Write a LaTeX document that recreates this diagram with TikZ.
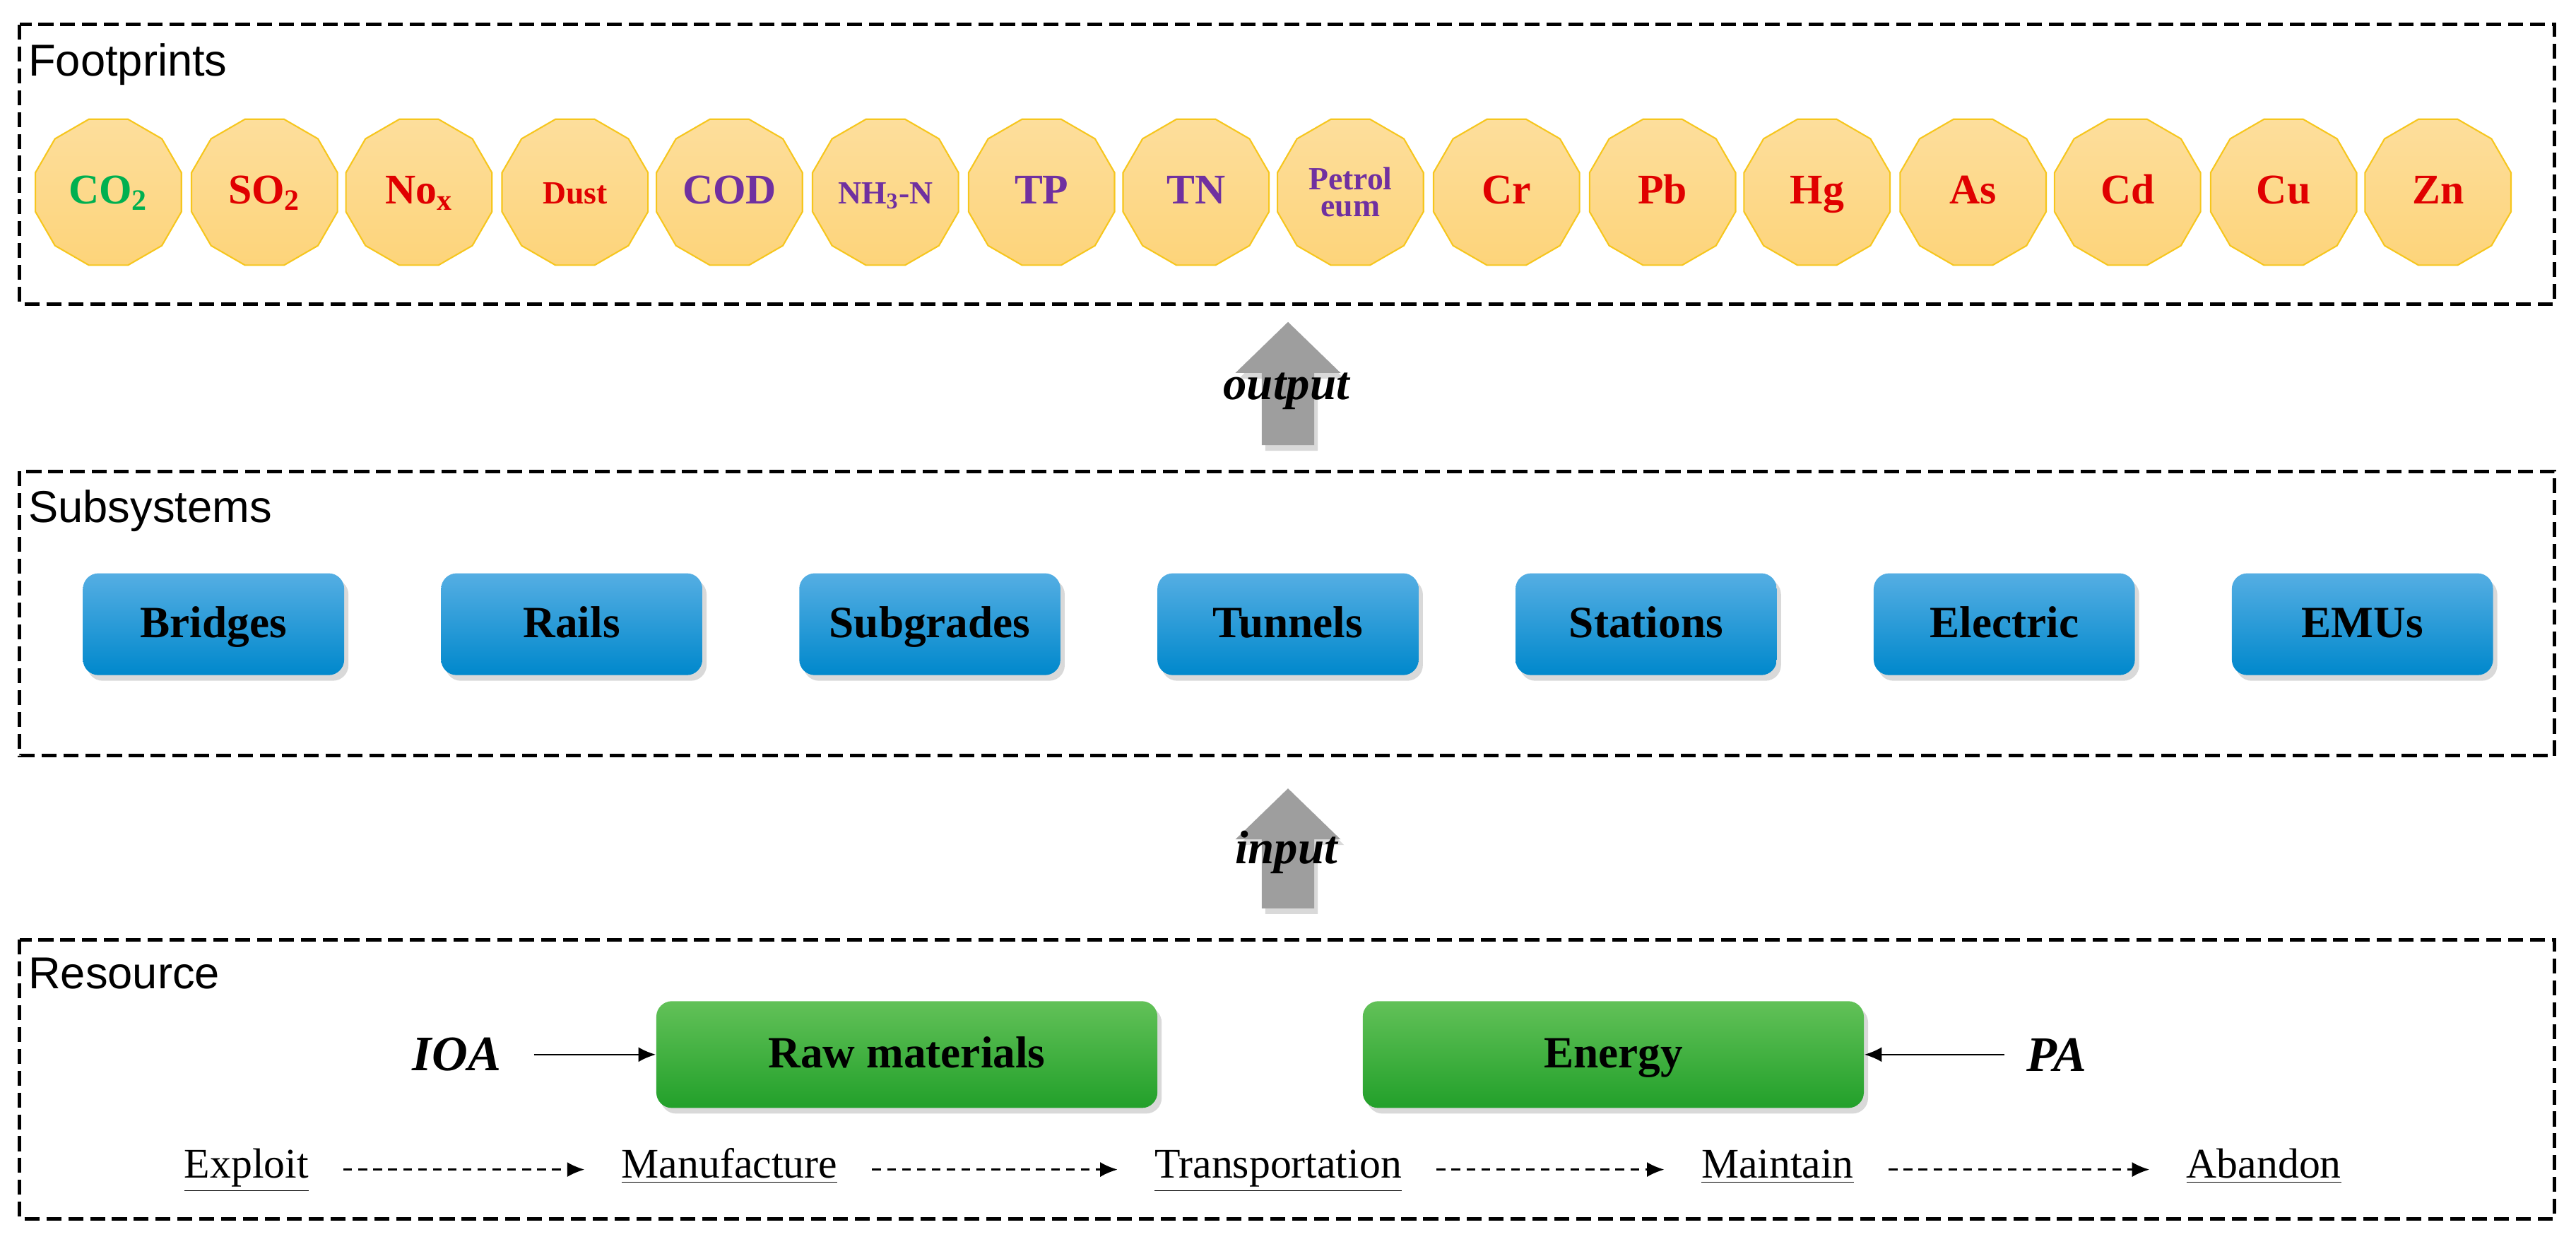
\documentclass[tikz,border=0pt]{standalone}
\usepackage{fontspec}
\setmainfont{Liberation Serif}
\newfontfamily\arial{Liberation Sans}
\usetikzlibrary{shapes.geometric,shadows,arrows.meta}
\definecolor{octfillA}{HTML}{FDDE9C}
\definecolor{octfillB}{HTML}{FDD47A}
\definecolor{octdraw}{HTML}{F6C61E}
\definecolor{bluetop}{HTML}{55AEE3}
\definecolor{bluebot}{HTML}{0088CC}
\definecolor{greentop}{HTML}{62C158}
\definecolor{greenbot}{HTML}{22A02A}
\definecolor{cgreen}{HTML}{00B050}
\definecolor{cred}{HTML}{E00000}
\definecolor{cpurple}{HTML}{7030A0}
\begin{document}
\begin{tikzpicture}[x=0.2325mm,y=-0.2325mm,
  frame/.style={draw=black,line width=1.4pt,dash pattern=on 6pt off 2.8pt},
  lab/.style={anchor=north west,inner sep=0pt,font=\arial\fontsize{18}{20}\selectfont},
  oct/.style={regular polygon,regular polygon sides=12,minimum size=92*0.2325mm,inner sep=0pt,
     top color=octfillA,bottom color=octfillB,draw=octdraw,line width=0.6pt,
     font=\bfseries\fontsize{17}{18}\selectfont},
  octt/.style={text height=11.5pt,text depth=2pt},
  small/.style={font=\bfseries\fontsize{13}{13}\selectfont},
  sub/.style={rounded corners=2.2mm,minimum width=159*0.2325mm,minimum height=62*0.2325mm,
     text height=12pt,text depth=1.5pt,
     top color=bluetop,bottom color=bluebot,draw=none,drop shadow={opacity=0.3,shadow xshift=0.6mm,shadow yshift=-0.8mm},
     font=\bfseries\fontsize{18}{20}\selectfont},
  res/.style={rounded corners=2.2mm,minimum width=305*0.2325mm,minimum height=65*0.2325mm,
     text height=12pt,text depth=1.5pt,
     top color=greentop,bottom color=greenbot,draw=none,drop shadow={opacity=0.3,shadow xshift=0.6mm,shadow yshift=-0.8mm},
     font=\bfseries\fontsize{18}{20}\selectfont},
  bigarrow/.style={fill=black!38,draw=none,drop shadow={opacity=0.3,shadow xshift=0.5mm,shadow yshift=-0.8mm}},
  stage/.style={font=\fontsize{17}{19}\selectfont,text height=12pt,text depth=5pt},
  darr/.style={-{Latex[length=7pt,width=6pt]},dash pattern=on 3.5pt off 2.5pt,line width=0.7pt},
  sarr/.style={-{Latex[length=7pt,width=6pt]},line width=0.7pt},
  ital/.style={font=\bfseries\itshape\fontsize{19}{21}\selectfont}
]
\useasboundingbox (0,0) rectangle (1568,757);
% frames
\draw[frame] (12,15) rectangle (1555,185);
\draw[frame] (12,287) rectangle (1555,460);
\draw[frame] (12,572) rectangle (1555,742);
\node[lab] (lf) at (17,26) {Footprints};
\node[lab] (ls) at (17,298) {Subsystems};
\node[lab] (lr) at (17,583) {Resource};
% footprints
\node[oct,octt,text=cgreen] (f1) at (66,117) {CO\textsubscript{2}};
\node[oct,octt,text=cred] (f2) at (161,117) {SO\textsubscript{2}};
\node[oct,octt,text=cred] (f3) at (255,117) {No\textsubscript{x}};
\node[oct,octt,text=cred,small] (f4) at (350,117) {Dust};
\node[oct,octt,text=cpurple] (f5) at (444,117) {COD};
\node[oct,octt,text=cpurple,small] (f6) at (539,117) {NH\textsubscript{3}-N};
\node[oct,octt,text=cpurple] (f7) at (634,117) {TP};
\node[oct,octt,text=cpurple] (f8) at (728,117) {TN};
\node[oct,text=cpurple,small,align=center] (f9) at (822,117) {Petrol\\[-2pt]eum};
\node[oct,octt,text=cred] (f10) at (917,117) {Cr};
\node[oct,octt,text=cred] (f11) at (1012,117) {Pb};
\node[oct,octt,text=cred] (f12) at (1106,117) {Hg};
\node[oct,octt,text=cred] (f13) at (1201,117) {As};
\node[oct,octt,text=cred] (f14) at (1295,117) {Cd};
\node[oct,octt,text=cred] (f15) at (1390,117) {Cu};
\node[oct,octt,text=cred] (f16) at (1484,117) {Zn};
% arrows
\path[bigarrow] (768,271) -- (768,227) -- (752,227) -- (784,196) -- (816,227) -- (800,227) -- (800,271) -- cycle;
\node[ital] (out) at (783,238) {output};
\path[bigarrow] (768,553) -- (768,511) -- (752,511) -- (784,480) -- (816,511) -- (800,511) -- (800,553) -- cycle;
\node[ital] (in) at (783,519) {input};
% subsystems
\node[sub] (b1) at (130,380) {Bridges};
\node[sub] (b2) at (348,380) {Rails};
\node[sub] (b3) at (566,380) {Subgrades};
\node[sub] (b4) at (784,380) {Tunnels};
\node[sub] (b5) at (1002,380) {Stations};
\node[sub] (b6) at (1220,380) {Electric};
\node[sub] (b7) at (1438,380) {EMUs};
% resource
\node[res] (raw) at (552,642) {Raw materials};
\node[res] (en) at (982,642) {Energy};
\node[ital,font=\bfseries\itshape\fontsize{20}{22}\selectfont] (ioa) at (278,642) {IOA};
\node[ital,font=\bfseries\itshape\fontsize{20}{22}\selectfont] (pa) at (1252,642) {PA};
\coordinate (ia) at (325,642);
\coordinate (pb) at (1220,642);
\draw[sarr] (ia) -- (raw.west);
\draw[sarr] (pb) -- (en.east);
\node[stage] (s1) at (150,712) {\underline{Exploit}};
\node[stage] (s2) at (444,712) {\underline{Manufacture}};
\node[stage] (s3) at (778,712) {\underline{Transportation}};
\node[stage] (s4) at (1082,712) {\underline{Maintain}};
\node[stage] (s5) at (1378,712) {\underline{Abandon}};
\draw[darr] ([xshift=3.7mm]s1.east) -- ([xshift=-4mm]s2.west);
\draw[darr] ([xshift=3.7mm]s2.east) -- ([xshift=-4mm]s3.west);
\draw[darr] ([xshift=3.7mm]s3.east) -- ([xshift=-4mm]s4.west);
\draw[darr] ([xshift=3.7mm]s4.east) -- ([xshift=-4mm]s5.west);
\end{tikzpicture}
\end{document}
